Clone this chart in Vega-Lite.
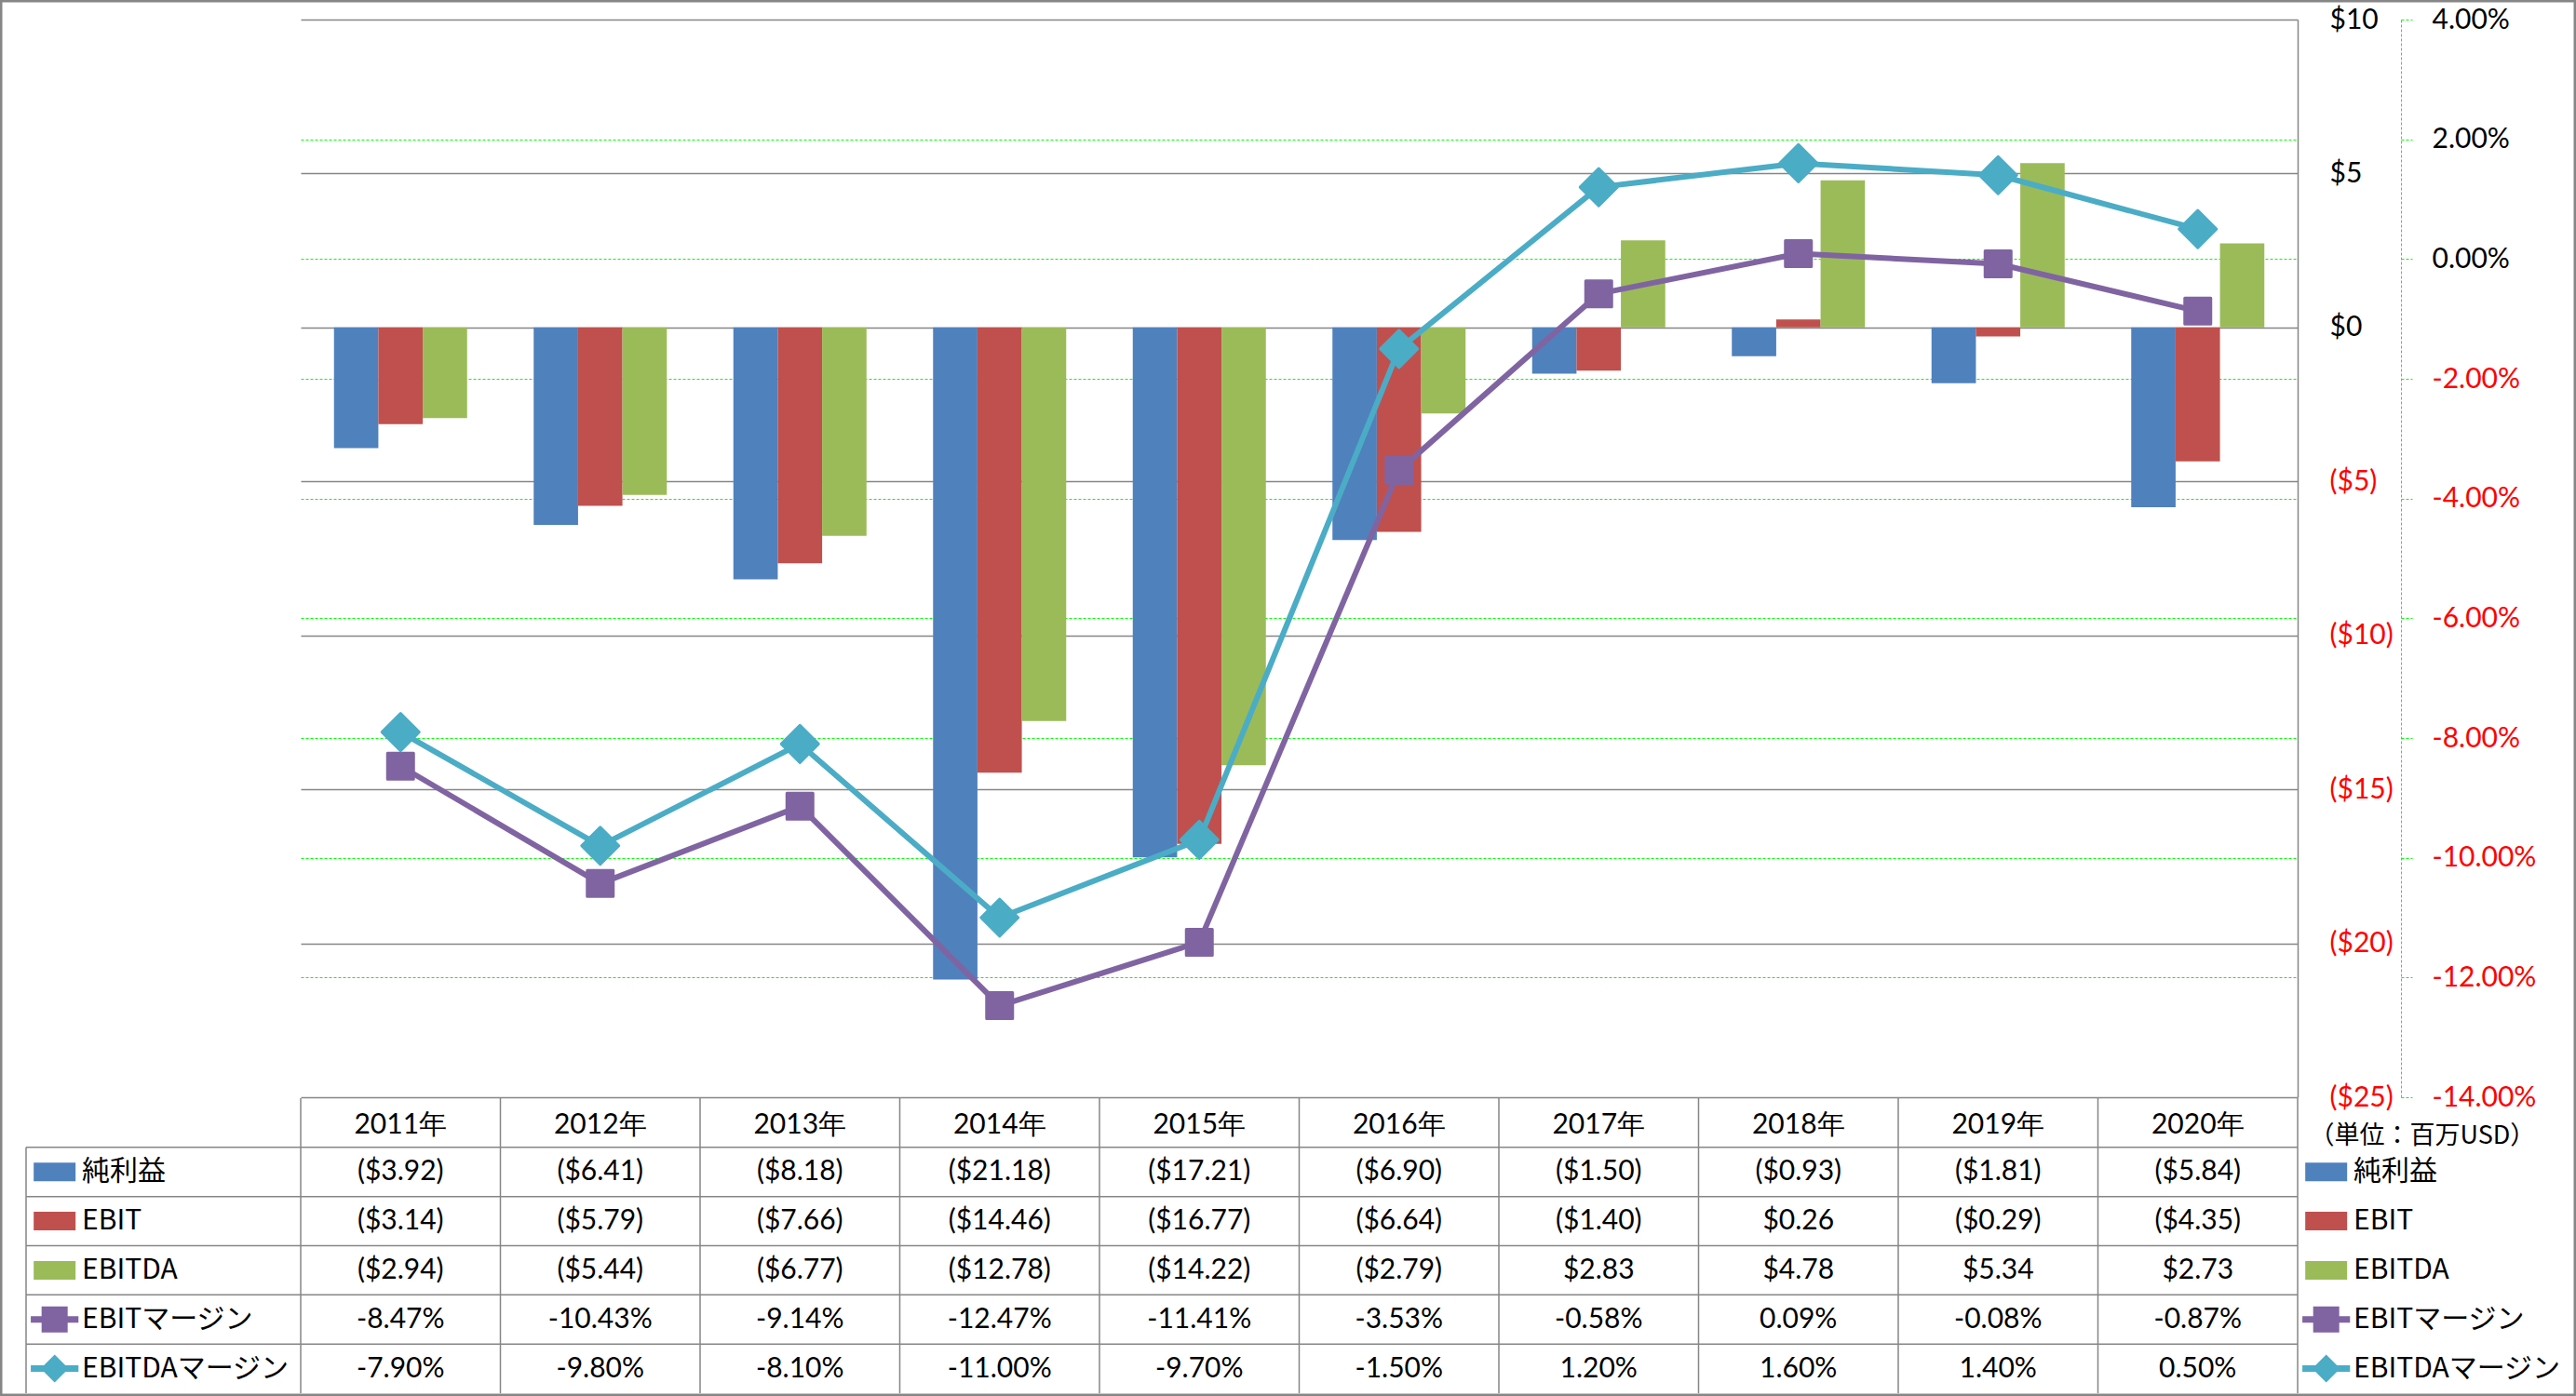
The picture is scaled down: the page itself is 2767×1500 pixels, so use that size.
{
  "$schema": "https://vega.github.io/schema/vega-lite/v6.json",
  "width": 2767,
  "height": 1500,
  "autosize": {"type": "none"},
  "padding": 0,
  "background": "#FFFFFF",
  "config": {
    "font": "Lato",
    "view": {"stroke": "#868686", "strokeWidth": 5},
    "locale": {"number": {"decimal": ".", "thousands": ",", "grouping": [3], "currency": ["$", ""], "minus": "-"}}
  },
  "datasets": {
    "fin": [
      {"year": "2011年", "series": "純利益", "value": -3.92},
      {"year": "2012年", "series": "純利益", "value": -6.41},
      {"year": "2013年", "series": "純利益", "value": -8.18},
      {"year": "2014年", "series": "純利益", "value": -21.18},
      {"year": "2015年", "series": "純利益", "value": -17.21},
      {"year": "2016年", "series": "純利益", "value": -6.90},
      {"year": "2017年", "series": "純利益", "value": -1.50},
      {"year": "2018年", "series": "純利益", "value": -0.93},
      {"year": "2019年", "series": "純利益", "value": -1.81},
      {"year": "2020年", "series": "純利益", "value": -5.84},
      {"year": "2011年", "series": "EBIT", "value": -3.14},
      {"year": "2012年", "series": "EBIT", "value": -5.79},
      {"year": "2013年", "series": "EBIT", "value": -7.66},
      {"year": "2014年", "series": "EBIT", "value": -14.46},
      {"year": "2015年", "series": "EBIT", "value": -16.77},
      {"year": "2016年", "series": "EBIT", "value": -6.64},
      {"year": "2017年", "series": "EBIT", "value": -1.40},
      {"year": "2018年", "series": "EBIT", "value": 0.26},
      {"year": "2019年", "series": "EBIT", "value": -0.29},
      {"year": "2020年", "series": "EBIT", "value": -4.35},
      {"year": "2011年", "series": "EBITDA", "value": -2.94},
      {"year": "2012年", "series": "EBITDA", "value": -5.44},
      {"year": "2013年", "series": "EBITDA", "value": -6.77},
      {"year": "2014年", "series": "EBITDA", "value": -12.78},
      {"year": "2015年", "series": "EBITDA", "value": -14.22},
      {"year": "2016年", "series": "EBITDA", "value": -2.79},
      {"year": "2017年", "series": "EBITDA", "value": 2.83},
      {"year": "2018年", "series": "EBITDA", "value": 4.78},
      {"year": "2019年", "series": "EBITDA", "value": 5.34},
      {"year": "2020年", "series": "EBITDA", "value": 2.73},
      {"year": "2011年", "series": "EBITマージン", "value": -0.0847},
      {"year": "2012年", "series": "EBITマージン", "value": -0.1043},
      {"year": "2013年", "series": "EBITマージン", "value": -0.0914},
      {"year": "2014年", "series": "EBITマージン", "value": -0.1247},
      {"year": "2015年", "series": "EBITマージン", "value": -0.1141},
      {"year": "2016年", "series": "EBITマージン", "value": -0.0353},
      {"year": "2017年", "series": "EBITマージン", "value": -0.0058},
      {"year": "2018年", "series": "EBITマージン", "value": 0.0009},
      {"year": "2019年", "series": "EBITマージン", "value": -0.0008},
      {"year": "2020年", "series": "EBITマージン", "value": -0.0087},
      {"year": "2011年", "series": "EBITDAマージン", "value": -0.079},
      {"year": "2012年", "series": "EBITDAマージン", "value": -0.098},
      {"year": "2013年", "series": "EBITDAマージン", "value": -0.081},
      {"year": "2014年", "series": "EBITDAマージン", "value": -0.11},
      {"year": "2015年", "series": "EBITDAマージン", "value": -0.097},
      {"year": "2016年", "series": "EBITDAマージン", "value": -0.015},
      {"year": "2017年", "series": "EBITDAマージン", "value": 0.012},
      {"year": "2018年", "series": "EBITDAマージン", "value": 0.016},
      {"year": "2019年", "series": "EBITDAマージン", "value": 0.014},
      {"year": "2020年", "series": "EBITDAマージン", "value": 0.005}
    ],
    "keys": [
      {"series": "純利益"},
      {"series": "EBIT"},
      {"series": "EBITDA"},
      {"series": "EBITマージン"},
      {"series": "EBITDAマージン"}
    ],
    "unit": [{"label": "（単位：百万USD）"}]
  },
  "layer": [
    {
      "layer": [
        {
          "data": {"name": "fin"},
          "transform": [{"filter": {"field": "series", "oneOf": ["純利益", "EBIT", "EBITDA"]}}],
          "mark": {"type": "bar"},
          "encoding": {
            "x": {"field": "year", "type": "nominal", "scale": {"type": "band", "domain": ["2011年","2012年","2013年","2014年","2015年","2016年","2017年","2018年","2019年","2020年"], "range": [323, 2468], "paddingInner": 0.33333, "paddingOuter": 0.16667}, "axis": null},
            "xOffset": {"field": "series", "type": "nominal", "scale": {"domain": ["純利益", "EBIT", "EBITDA"], "paddingInner": 0, "paddingOuter": 0}},
            "y": {
              "field": "value", "type": "quantitative",
              "scale": {"domain": [-25, 10], "range": [1179, 21], "nice": false, "zero": true},
              "axis": {
                "orient": "left", "offset": -2468, "title": null,
                "values": [10, 5, 0, -5, -10, -15, -20, -25],
                "format": "($.0f",
                "ticks": false, "tickSize": 0,
                "domain": true, "domainColor": "#868686", "domainWidth": 1.5,
                "grid": true, "gridColor": "#868686", "gridWidth": 1.5,
                "labelAlign": "left", "labelBaseline": "middle", "labelPadding": -34,
                "labelFont": "Lato", "labelFontSize": 30,
                "labelFlush": false, "labelOverlap": false,
                "labelColor": {"condition": {"test": "datum.value < 0", "value": "#FF0000"}, "value": "#000000"}
              }
            },
            "color": {"field": "series", "type": "nominal", "scale": {"domain": ["純利益", "EBIT", "EBITDA", "EBITマージン", "EBITDAマージン"], "range": ["#4F81BD", "#C0504D", "#9BBB59", "#8064A2", "#4BACC6"]}, "legend": null}
          }
        },
        {
          "data": {"name": "fin"},
          "encoding": {
            "x": {"field": "year", "type": "nominal", "scale": {"type": "band", "domain": ["2011年","2012年","2013年","2014年","2015年","2016年","2017年","2018年","2019年","2020年"], "range": [323, 2468], "paddingInner": 0.33333, "paddingOuter": 0.16667}, "axis": null},
            "y": {
              "field": "value", "type": "quantitative",
              "scale": {"domain": [-0.14, 0.04], "range": [1179, 21], "nice": false, "zero": false},
              "axis": {
                "orient": "left", "offset": -2579, "title": null,
                "values": [0.04, 0.02, 0, -0.02, -0.04, -0.06, -0.08, -0.1, -0.12, -0.14],
                "format": ".2%",
                "ticks": true, "tickSize": -12, "tickColor": "#00FF00", "tickWidth": 1, "tickDash": [3, 2],
                "domain": true, "domainColor": "#00FF00", "domainWidth": 1, "domainDash": [3, 2],
                "grid": true, "gridColor": "#00FF00", "gridWidth": 1, "gridDash": [3, 2],
                "gridOpacity": {"condition": {"test": "datum.value > 0.035 || datum.value < -0.135", "value": 0}, "value": 1},
                "labelAlign": "left", "labelBaseline": "middle", "labelPadding": -21,
                "labelFont": "Lato", "labelFontSize": 30,
                "labelFlush": false, "labelOverlap": false,
                "labelColor": {"condition": {"test": "datum.value < 0", "value": "#FF0000"}, "value": "#000000"}
              }
            }
          },
          "layer": [
            {
              "transform": [{"filter": {"field": "series", "equal": "EBITマージン"}}],
              "mark": {"type": "line", "color": "#8064A2", "strokeWidth": 6, "strokeJoin": "round", "strokeCap": "round"}
            },
            {
              "transform": [{"filter": {"field": "series", "equal": "EBITマージン"}}],
              "mark": {"type": "point", "shape": "square", "size": 784, "filled": true, "color": "#8064A2", "stroke": "#8064A2", "strokeWidth": 3, "strokeJoin": "round", "opacity": 1}
            },
            {
              "transform": [{"filter": {"field": "series", "equal": "EBITDAマージン"}}],
              "mark": {"type": "line", "color": "#4BACC6", "strokeWidth": 6, "strokeJoin": "round", "strokeCap": "round"}
            },
            {
              "transform": [{"filter": {"field": "series", "equal": "EBITDAマージン"}}],
              "mark": {"type": "point", "shape": "diamond", "size": 1600, "filled": true, "color": "#4BACC6", "stroke": "#4BACC6", "strokeWidth": 3, "strokeJoin": "round", "opacity": 1}
            }
          ]
        },
        {
          "layer": [
            {
              "data": {"name": "fin"},
              "transform": [{"filter": {"field": "series", "equal": "純利益"}}],
              "mark": {"type": "rule", "color": "#868686", "strokeWidth": 1.5},
              "encoding": {
                "x": {"field": "year", "type": "nominal", "bandPosition": -0.25, "scale": {"type": "band", "domain": ["2011年","2012年","2013年","2014年","2015年","2016年","2017年","2018年","2019年","2020年"], "range": [323, 2468], "paddingInner": 0.33333, "paddingOuter": 0.16667}, "axis": null},
                "y": {"datum": "年", "type": "nominal", "bandPosition": 0, "scale": {"type": "band", "domain": ["年", "純利益", "EBIT", "EBITDA", "EBITマージン", "EBITDAマージン"], "range": [1180, 1497], "paddingInner": 0, "paddingOuter": 0}, "axis": null},
                "y2": {"datum": "EBITDAマージン", "bandPosition": 1}
              }
            },
            {
              "data": {"name": "fin"},
              "transform": [{"filter": "datum.series === '純利益' && datum.year === '2020年'"}],
              "mark": {"type": "rule", "color": "#868686", "strokeWidth": 1.5},
              "encoding": {
                "x": {"field": "year", "type": "nominal", "bandPosition": 1.25, "axis": null},
                "y": {"datum": "年", "type": "nominal", "bandPosition": 0, "axis": null},
                "y2": {"datum": "EBITDAマージン", "bandPosition": 1}
              }
            },
            {
              "data": {"name": "keys"},
              "mark": {"type": "rule", "color": "#868686", "strokeWidth": 1.5},
              "encoding": {
                "y": {"field": "series", "type": "nominal", "bandPosition": 0, "axis": null},
                "x": {"datum": "2011年", "type": "nominal", "bandPosition": -0.25, "axis": null},
                "x2": {"datum": "2020年", "bandPosition": 1.25}
              }
            },
            {
              "data": {"name": "fin"},
              "transform": [{"filter": {"field": "series", "equal": "純利益"}}],
              "mark": {"type": "text", "font": "Lato", "fontSize": 30, "align": "center", "baseline": "middle", "color": "#000000"},
              "encoding": {
                "x": {"field": "year", "type": "nominal", "axis": null},
                "y": {"datum": "年", "type": "nominal", "bandPosition": 0.55, "axis": null},
                "text": {"field": "year"}
              }
            },
            {
              "data": {"name": "fin"},
              "transform": [{"filter": {"field": "series", "oneOf": ["純利益", "EBIT", "EBITDA"]}}],
              "mark": {"type": "text", "font": "Lato", "fontSize": 30, "align": "center", "baseline": "middle", "color": "#000000"},
              "encoding": {
                "x": {"field": "year", "type": "nominal", "axis": null},
                "y": {"field": "series", "type": "nominal", "bandPosition": 0.5, "axis": null},
                "text": {"field": "value", "type": "quantitative", "format": "($.2f"}
              }
            },
            {
              "data": {"name": "fin"},
              "transform": [{"filter": {"field": "series", "oneOf": ["EBITマージン", "EBITDAマージン"]}}],
              "mark": {"type": "text", "font": "Lato", "fontSize": 30, "align": "center", "baseline": "middle", "color": "#000000"},
              "encoding": {
                "x": {"field": "year", "type": "nominal", "axis": null},
                "y": {"field": "series", "type": "nominal", "bandPosition": 0.5, "axis": null},
                "text": {"field": "value", "type": "quantitative", "format": ".2%"}
              }
            }
          ]
        }
      ],
      "resolve": {"scale": {"y": "independent"}, "axis": {"y": "independent"}}
    },
    {
      "layer": [
        {
          "data": {"name": "keys"},
          "mark": {"type": "rule", "color": "#868686", "strokeWidth": 1.5},
          "encoding": {
            "y": {"field": "series", "type": "nominal", "bandPosition": 0, "scale": {"type": "band", "domain": ["年", "純利益", "EBIT", "EBITDA", "EBITマージン", "EBITDAマージン"], "range": [1180, 1497], "paddingInner": 0, "paddingOuter": 0}, "axis": null},
            "x": {"datum": "L", "type": "nominal", "bandPosition": 0, "scale": {"type": "band", "domain": ["L", "R"], "range": [28, 2763], "paddingInner": 0.8791, "paddingOuter": 0}, "axis": null},
            "x2": {"datum": "L", "bandPosition": 1}
          }
        },
        {
          "data": {"name": "keys"},
          "transform": [{"filter": {"field": "series", "equal": "純利益"}}],
          "mark": {"type": "rule", "color": "#868686", "strokeWidth": 1.5},
          "encoding": {
            "x": {"datum": "L", "type": "nominal", "bandPosition": 0, "axis": null},
            "y": {"field": "series", "type": "nominal", "bandPosition": 0, "axis": null},
            "y2": {"datum": "EBITDAマージン", "bandPosition": 1}
          }
        },
        {
          "data": {"name": "keys"},
          "mark": {"type": "point", "filled": true, "size": 1600, "opacity": 1, "strokeWidth": 0},
          "encoding": {
            "x": {"datum": "L", "type": "nominal", "bandPosition": 0.104, "axis": null},
            "y": {"field": "series", "type": "nominal", "bandPosition": 0.5, "axis": null},
            "color": {"field": "series", "type": "nominal", "legend": null},
            "shape": {"field": "series", "type": "nominal", "scale": {"domain": ["純利益", "EBIT", "EBITDA", "EBITマージン", "EBITDAマージン"], "range": ["M-1.125,-0.5H1.125V0.5H-1.125Z", "M-1.125,-0.5H1.125V0.5H-1.125Z", "M-1.125,-0.5H1.125V0.5H-1.125Z", "M-1.28,-0.175H-0.7V-0.7H0.7V-0.175H1.28V0.175H0.7V0.7H-0.7V0.175H-1.28Z", "M-1.28,-0.175H-0.575L0,-0.75L0.575,-0.175H1.28V0.175H0.575L0,0.75L-0.575,0.175H-1.28Z"]}, "legend": null}
          }
        },
        {
          "data": {"name": "keys"},
          "mark": {"type": "point", "filled": true, "size": 1600, "opacity": 1, "strokeWidth": 0},
          "encoding": {
            "x": {"datum": "R", "type": "nominal", "bandPosition": 0.104, "axis": null},
            "y": {"field": "series", "type": "nominal", "bandPosition": 0.5, "axis": null},
            "color": {"field": "series", "type": "nominal", "legend": null},
            "shape": {"field": "series", "type": "nominal", "legend": null}
          }
        },
        {
          "data": {"name": "keys"},
          "mark": {"type": "text", "font": "Noto Sans CJK JP", "fontSize": 30, "align": "left", "baseline": "middle", "color": "#000000"},
          "encoding": {
            "x": {"datum": "L", "type": "nominal", "bandPosition": 0.2034, "axis": null},
            "y": {"field": "series", "type": "nominal", "bandPosition": 0.5, "axis": null},
            "text": {"field": "series"}
          }
        },
        {
          "data": {"name": "keys"},
          "mark": {"type": "text", "font": "Noto Sans CJK JP", "fontSize": 30, "align": "left", "baseline": "middle", "color": "#000000"},
          "encoding": {
            "x": {"datum": "R", "type": "nominal", "bandPosition": 0.2034, "axis": null},
            "y": {"field": "series", "type": "nominal", "bandPosition": 0.5, "axis": null},
            "text": {"field": "series"}
          }
        },
        {
          "data": {"name": "unit"},
          "mark": {"type": "text", "font": "Noto Sans CJK JP", "fontSize": 27, "align": "center", "baseline": "middle", "color": "#000000"},
          "encoding": {
            "x": {"datum": "R", "type": "nominal", "bandPosition": 0.454, "axis": null},
            "y": {"datum": "年", "type": "nominal", "bandPosition": 0.78, "axis": null},
            "text": {"field": "label"}
          }
        }
      ]
    }
  ],
  "resolve": {"scale": {"x": "independent", "y": "independent"}}
}
